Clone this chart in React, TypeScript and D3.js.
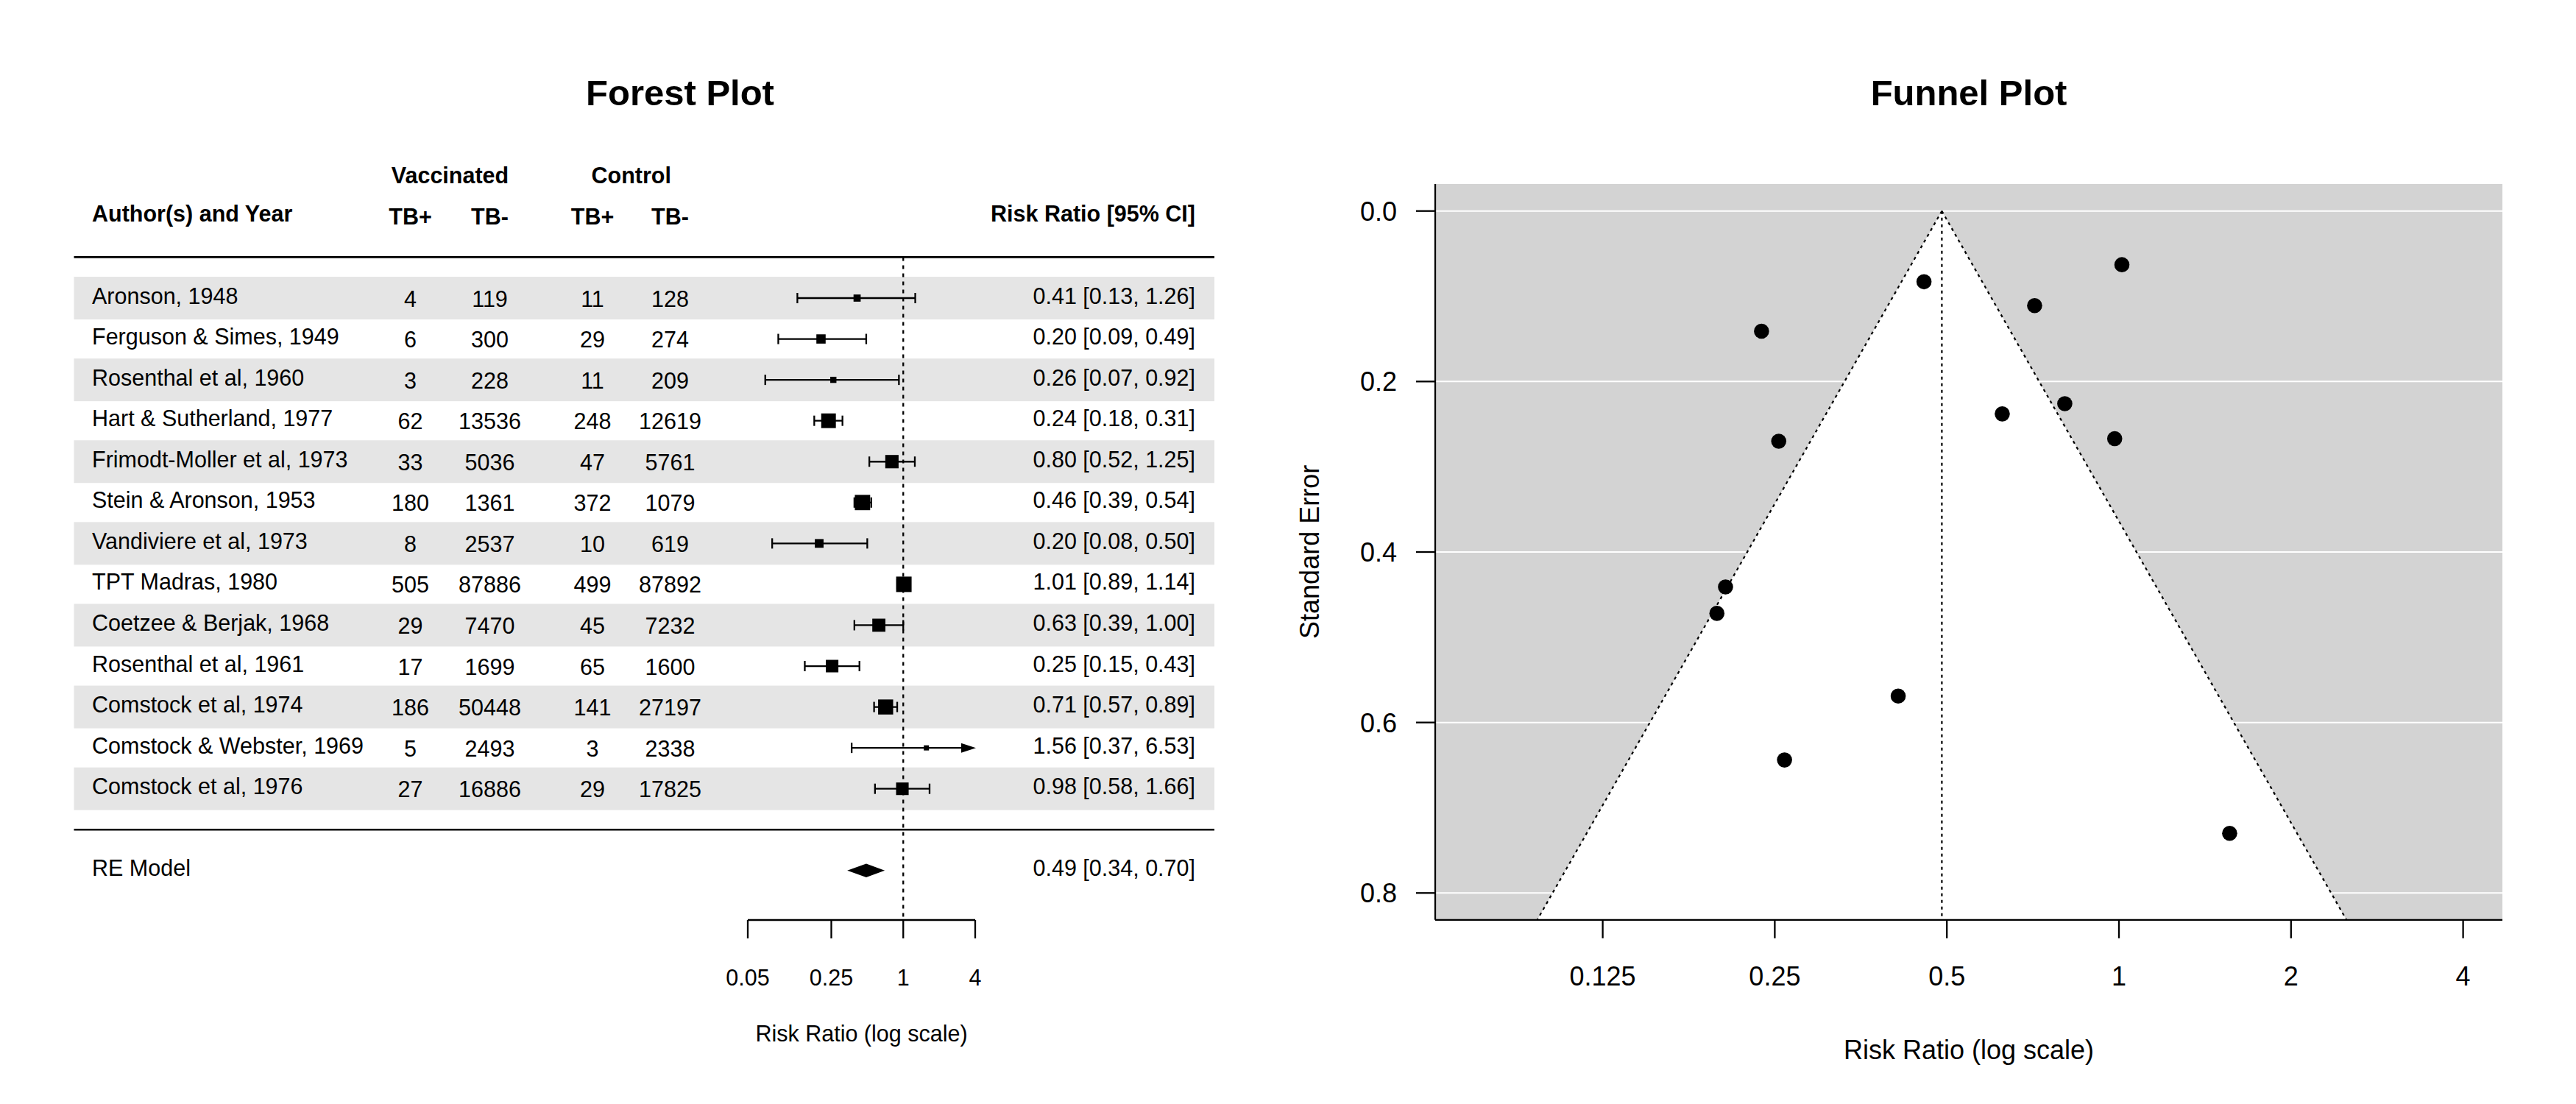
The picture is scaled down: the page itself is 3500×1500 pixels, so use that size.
import React from "react";
import * as d3 from "d3";

const studies = [
  "Aronson, 1948", "Ferguson & Simes, 1949", "Rosenthal et al, 1960", "Hart & Sutherland, 1977",
  "Frimodt-Moller et al, 1973", "Stein & Aronson, 1953", "Vandiviere et al, 1973", "TPT Madras, 1980",
  "Coetzee & Berjak, 1968", "Rosenthal et al, 1961", "Comstock et al, 1974", "Comstock & Webster, 1969",
  "Comstock et al, 1976",
];
const vaccPos = [4, 6, 3, 62, 33, 180, 8, 505, 29, 17, 186, 5, 27];
const vaccNeg = [119, 300, 228, 13536, 5036, 1361, 2537, 87886, 7470, 1699, 50448, 2493, 16886];
const ctrlPos = [11, 29, 11, 248, 47, 372, 10, 499, 45, 65, 141, 3, 29];
const ctrlNeg = [128, 274, 209, 12619, 5761, 1079, 619, 87892, 7232, 1600, 27197, 2338, 17825];
// printed risk ratios and CIs
const rr = [0.41, 0.20, 0.26, 0.24, 0.80, 0.46, 0.20, 1.01, 0.63, 0.25, 0.71, 1.56, 0.98];
const ciLow = [0.13, 0.09, 0.07, 0.18, 0.52, 0.39, 0.08, 0.89, 0.39, 0.15, 0.57, 0.37, 0.58];
const ciHigh = [1.26, 0.49, 0.92, 0.31, 1.25, 0.54, 0.50, 1.14, 1.00, 0.43, 0.89, 6.53, 1.66];
// risk ratios as placed in the plots (a bit finer than the printed two decimals)
const rrMark = [0.411, 0.205, 0.260, 0.237, 0.804, 0.456, 0.198, 1.012, 0.625, 0.254, 0.712, 1.562, 0.983];
// study weights (%)
const weights = [5.06, 6.36, 4.44, 9.70, 8.87, 10.10, 6.03, 10.19, 8.74, 8.37, 9.93, 3.82, 8.40];
// standard errors
const stdErr = [0.569, 0.441, 0.644, 0.141, 0.226, 0.083, 0.472, 0.063, 0.238, 0.270, 0.111, 0.730, 0.267];
const reModel = { est: 0.49, low: 0.34, high: 0.70 };
const forestTicks = [0.05, 0.25, 1, 4];
const funnelTicksX = [0.125, 0.25, 0.5, 1, 2, 4];
const funnelTicksY = [0, 0.2, 0.4, 0.6, 0.8];

const FONT = "'Liberation Sans', Arial, Helvetica, sans-serif";
const LW = 2.3;

const fmt = (v: number) => v.toFixed(2);

function Forest() {
  const x = d3.scaleLog().domain([0.05, 4]).range([1016, 1325]);
  const y = d3.scaleLinear().domain([13, 1]).range([405, 1071.7]);
  const size = d3.scaleLinear()
    .domain([d3.min(weights) as number, d3.max(weights) as number])
    .range([7, 21]);
  const left = 100.5, right = 1650;
  const labelX = 125, rrX = 1624;
  const cols = [557.5, 665.5, 805, 910.5];
  const fs = 30.5;
  const axisY = 1250;
  const xMax = x.domain()[1];

  return (
    <g fontFamily={FONT} fill="#000">
      <text x={924} y={142.5} fontSize={49} fontWeight="bold" textAnchor="middle">Forest Plot</text>

      {studies.map((s, i) => i % 2 === 0 ? (
        <rect key={"band" + i} x={left} width={right - left} y={y(13 - i) - 29} height={58} fill="#e5e5e5" />
      ) : null)}

      {/* headers */}
      <g fontWeight="bold" fontSize={fs}>
        <text x={(cols[0] + cols[1]) / 2} y={y(16) + 11} textAnchor="middle">Vaccinated</text>
        <text x={(cols[2] + cols[3]) / 2} y={y(16) + 11} textAnchor="middle">Control</text>
        <text x={labelX} y={y(15) + 7.5}>Author(s) and Year</text>
        {["TB+", "TB-", "TB+", "TB-"].map((h, j) => (
          <text key={"h" + j} x={cols[j]} y={y(15) + 11} textAnchor="middle">{h}</text>
        ))}
        <text x={rrX} y={y(15) + 7.5} textAnchor="end">Risk Ratio [95% CI]</text>
      </g>

      <line x1={left} x2={right} y1={y(14)} y2={y(14)} stroke="#000" strokeWidth={2.7} />
      <line x1={left} x2={right} y1={y(0)} y2={y(0)} stroke="#000" strokeWidth={2.7} />
      <line x1={x(1)} x2={x(1)} y1={y(14)} y2={axisY} stroke="#000" strokeWidth={LW} strokeDasharray="5,6" />

      {studies.map((s, i) => {
        const cy = y(13 - i);
        const lo = x(ciLow[i]);
        const clipped = ciHigh[i] > xMax;
        const hi = clipped ? x(xMax) : x(ciHigh[i]);
        const sq = size(weights[i]);
        const nums = [vaccPos[i], vaccNeg[i], ctrlPos[i], ctrlNeg[i]];
        return (
          <g key={s}>
            <text x={labelX} y={cy + 7.5} fontSize={fs}>{s}</text>
            {nums.map((n, j) => (
              <text key={j} x={cols[j]} y={cy + 11.5} fontSize={fs} textAnchor="middle">{n}</text>
            ))}
            <text x={rrX} y={cy + 7.5} fontSize={fs} textAnchor="end">
              {`${fmt(rr[i])} [${fmt(ciLow[i])}, ${fmt(ciHigh[i])}]`}
            </text>
            <line x1={lo} x2={clipped ? hi - 15 : hi} y1={cy} y2={cy} stroke="#000" strokeWidth={LW} />
            <line x1={lo} x2={lo} y1={cy - 7} y2={cy + 7} stroke="#000" strokeWidth={LW} />
            {clipped ? (
              <polygon points={`${hi - 19},${cy - 6.5} ${hi + 1},${cy} ${hi - 19},${cy + 6.5}`} fill="#000" />
            ) : (
              <line x1={hi} x2={hi} y1={cy - 7} y2={cy + 7} stroke="#000" strokeWidth={LW} />
            )}
            <rect x={x(rrMark[i]) - sq / 2} y={cy - sq / 2} width={sq} height={sq} fill="#000" />
          </g>
        );
      })}

      {/* RE model */}
      <text x={labelX} y={y(-1) + 7.5} fontSize={fs}>RE Model</text>
      <text x={rrX} y={y(-1) + 7.5} fontSize={fs} textAnchor="end">
        {`${fmt(reModel.est)} [${fmt(reModel.low)}, ${fmt(reModel.high)}]`}
      </text>
      <polygon
        points={[
          [x(reModel.low), y(-1)], [x(reModel.est), y(-1) - 9.2],
          [x(reModel.high), y(-1)], [x(reModel.est), y(-1) + 9.2],
        ].map(p => p.join(",")).join(" ")}
        fill="#000"
      />

      {/* axis */}
      <line x1={x(0.05)} x2={x(4)} y1={axisY} y2={axisY} stroke="#000" strokeWidth={LW} />
      {forestTicks.map(t => (
        <g key={"ft" + t}>
          <line x1={x(t)} x2={x(t)} y1={axisY} y2={axisY + 25} stroke="#000" strokeWidth={LW} />
          <text x={x(t)} y={1339.3} fontSize={fs} textAnchor="middle">{String(t)}</text>
        </g>
      ))}
      <text x={(x(0.05) + x(4)) / 2} y={1415} fontSize={fs} textAnchor="middle">Risk Ratio (log scale)</text>
    </g>
  );
}

function Funnel() {
  const x = d3.scaleLog().domain([0.125, 4]).range([2177.6, 3346.6]);
  const y = d3.scaleLinear().domain([0, 0.8]).range([286.7, 1213.3]);
  const left = 1950, right = 3400, top = 250, bottom = 1249.8;
  const fs = 36;
  const seBottom = y.invert(bottom);
  const le = Math.log(reModel.est);
  const xl = x(Math.exp(le - 1.96 * seBottom));
  const xr = x(Math.exp(le + 1.96 * seBottom));
  const apexX = x(reModel.est), apexY = y(0);

  return (
    <g fontFamily={FONT} fill="#000">
      <text x={(left + right) / 2} y={142.5} fontSize={49} fontWeight="bold" textAnchor="middle">Funnel Plot</text>

      <rect x={left} y={top} width={right - left} height={bottom - top} fill="#d3d3d3" />
      {funnelTicksY.map(t => (
        <line key={"g" + t} x1={left} x2={right} y1={y(t)} y2={y(t)} stroke="#fff" strokeWidth={2} />
      ))}
      <polygon points={`${apexX},${apexY} ${xl},${bottom} ${xr},${bottom}`} fill="#fff" />
      <line x1={apexX} y1={apexY} x2={xl} y2={bottom} stroke="#000" strokeWidth={2.2} strokeDasharray="4,5" />
      <line x1={apexX} y1={apexY} x2={xr} y2={bottom} stroke="#000" strokeWidth={2.2} strokeDasharray="4,5" />
      <line x1={apexX} y1={apexY} x2={apexX} y2={bottom} stroke="#000" strokeWidth={2.2} strokeDasharray="4,5" />

      {rrMark.map((v, i) => (
        <circle key={"p" + i} cx={x(v)} cy={y(stdErr[i])} r={10.3} fill="#000" />
      ))}

      <line x1={left} x2={left} y1={top} y2={bottom} stroke="#000" strokeWidth={LW} />
      <line x1={left} x2={right} y1={bottom} y2={bottom} stroke="#000" strokeWidth={LW} />

      {funnelTicksY.map(t => (
        <g key={"yt" + t}>
          <line x1={left - 26} x2={left} y1={y(t)} y2={y(t)} stroke="#000" strokeWidth={LW} />
          <text x={1898} y={y(t) + 13} fontSize={fs} textAnchor="end">{t.toFixed(1)}</text>
        </g>
      ))}
      {funnelTicksX.map(t => (
        <g key={"xt" + t}>
          <line x1={x(t)} x2={x(t)} y1={bottom} y2={bottom + 25} stroke="#000" strokeWidth={LW} />
          <text x={x(t)} y={1339} fontSize={fs} textAnchor="middle">{String(t)}</text>
        </g>
      ))}
      <text x={(left + right) / 2} y={1439} fontSize={fs} textAnchor="middle">Risk Ratio (log scale)</text>
      <text transform={`translate(1791.5,${(top + bottom) / 2}) rotate(-90)`} fontSize={fs} textAnchor="middle">
        Standard Error
      </text>
    </g>
  );
}

export default function App() {
  return (
    <svg width={3500} height={1500} style={{ position: "absolute", left: 0, top: 0, background: "#fff" }}>
      <rect width={3500} height={1500} fill="#fff" />
      <Forest />
      <Funnel />
    </svg>
  );
}
